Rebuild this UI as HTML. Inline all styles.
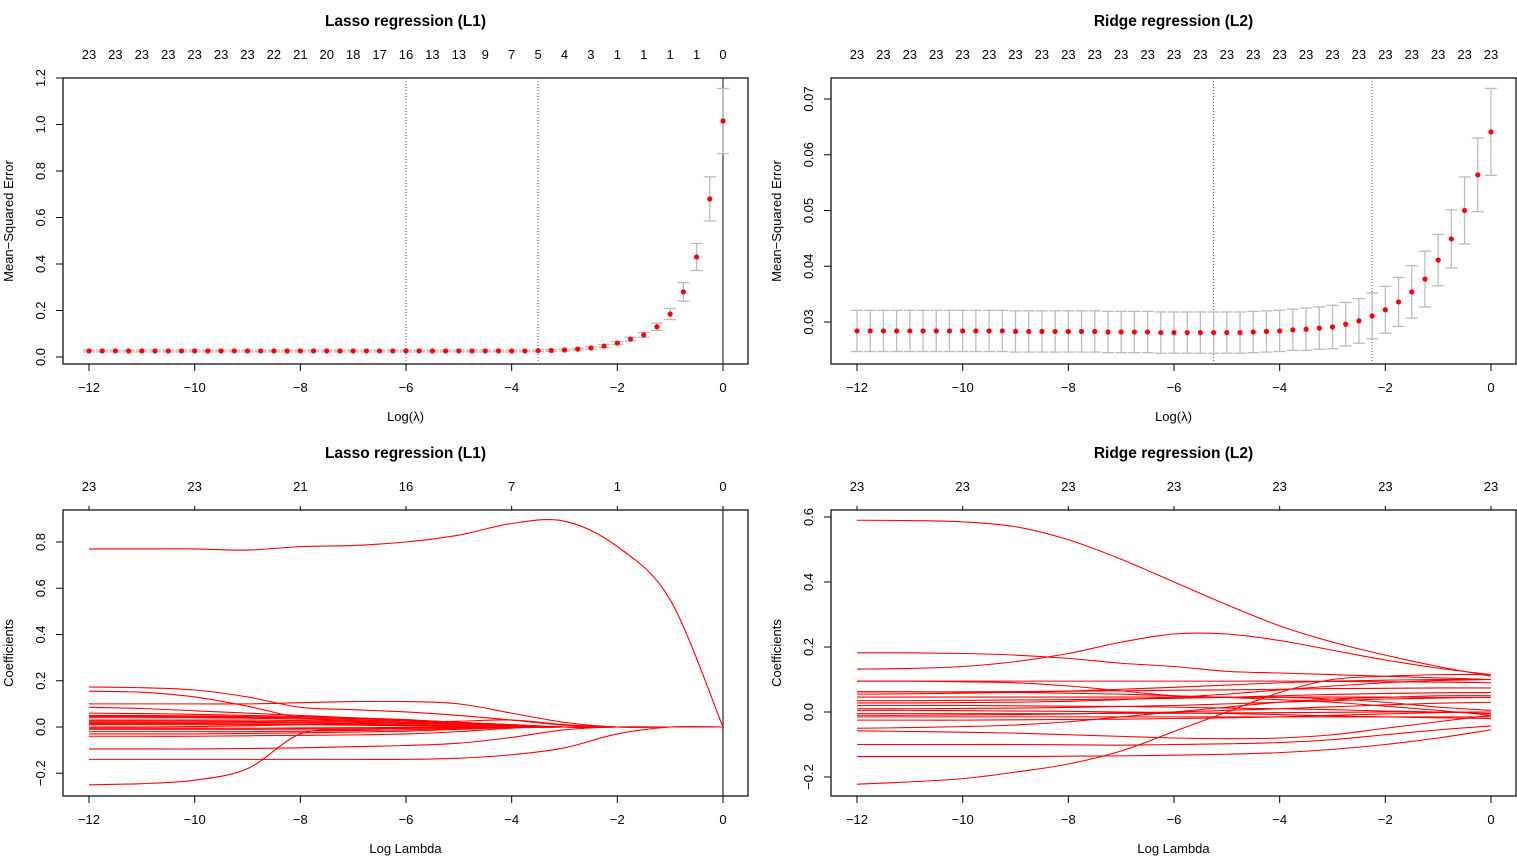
<!DOCTYPE html>
<html><head><meta charset="utf-8"><style>
html,body{margin:0;padding:0;background:#fff;}
svg text{font-family:"Liberation Sans",Arial,sans-serif;fill:#000;}
</style></head><body>
<svg id="c" width="1517" height="860" viewBox="0 0 1517 860" xmlns="http://www.w3.org/2000/svg"></svg>
<script>
// ---- data ----
const cvLogLambda = [-12,-11.75,-11.5,-11.25,-11,-10.75,-10.5,-10.25,-10,-9.75,-9.5,-9.25,-9,-8.75,-8.5,-8.25,-8,-7.75,-7.5,-7.25,-7,-6.75,-6.5,-6.25,-6,-5.75,-5.5,-5.25,-5,-4.75,-4.5,-4.25,-4,-3.75,-3.5,-3.25,-3,-2.75,-2.5,-2.25,-2,-1.75,-1.5,-1.25,-1,-0.75,-0.5,-0.25,0];
const lassoMse = [0.026,0.026,0.026,0.026,0.026,0.026,0.026,0.026,0.026,0.026,0.026,0.026,0.026,0.026,0.026,0.026,0.026,0.026,0.026,0.026,0.026,0.026,0.026,0.026,0.026,0.026,0.026,0.026,0.026,0.026,0.026,0.026,0.026,0.026,0.027,0.028,0.030,0.034,0.039,0.047,0.060,0.077,0.095,0.13,0.185,0.28,0.43,0.68,1.015];
const lassoSe = [0.004,0.004,0.004,0.004,0.004,0.004,0.004,0.004,0.004,0.004,0.004,0.004,0.004,0.004,0.004,0.004,0.004,0.004,0.004,0.004,0.004,0.004,0.004,0.004,0.004,0.004,0.004,0.004,0.004,0.004,0.004,0.004,0.004,0.004,0.004,0.004,0.004,0.004,0.005,0.006,0.006,0.008,0.01,0.016,0.024,0.04,0.058,0.095,0.14];
const ridgeMse = [0.0284,0.0284,0.0284,0.0284,0.0284,0.0284,0.0284,0.0284,0.0284,0.0284,0.0284,0.0284,0.0283,0.0283,0.0283,0.0283,0.0283,0.0283,0.0283,0.0282,0.0282,0.0282,0.0282,0.0281,0.0281,0.0281,0.0281,0.0281,0.0281,0.0281,0.0282,0.0283,0.0284,0.0286,0.0287,0.0289,0.0291,0.0296,0.0302,0.0311,0.0322,0.0336,0.0354,0.0377,0.0411,0.0449,0.0500,0.0564,0.0641];
const ridgeSe = [0.0037,0.0037,0.0037,0.0037,0.0037,0.0037,0.0037,0.0037,0.0037,0.0037,0.0037,0.0037,0.0037,0.0037,0.0037,0.0037,0.0037,0.0037,0.0037,0.0037,0.0037,0.0037,0.0037,0.0037,0.0037,0.0037,0.0037,0.0037,0.0037,0.0037,0.0037,0.0037,0.0037,0.0037,0.0038,0.0038,0.0039,0.0039,0.004,0.0041,0.0042,0.0044,0.0047,0.005,0.0046,0.0052,0.006,0.0066,0.0078];
const lassoTopLabels = ["23","23","23","23","23","23","23","22","21","20","18","17","16","13","13","9","7","5","4","3","1","1","1","1","0"];
const ridgeTopLabels = ["23","23","23","23","23","23","23","23","23","23","23","23","23","23","23","23","23","23","23","23","23","23","23","23","23"];
const lassoVLines = [-6,-3.5];
const ridgeVLines = [-5.25,-2.25];
const pathLogLambda = [-12,-11,-10,-9,-8,-7,-6,-5,-4,-3,-2,-1,0];
const lassoPathTop = ["23","23","21","16","7","1","0"];
const ridgePathTop = ["23","23","23","23","23","23","23"];
const lassoCoefs = [
[0.77,0.77,0.77,0.765,0.78,0.785,0.80,0.83,0.88,0.89,0.78,0.55,0],
[0.173,0.17,0.16,0.13,0.085,0.075,0.065,0.05,0.03,0.008,0,0,0],
[0.155,0.15,0.13,0.09,0.04,0.025,0.018,0.01,0.003,0,0,0,0],
[0.10,0.10,0.10,0.10,0.105,0.11,0.11,0.10,0.06,0.02,0,0,0],
[0.085,0.08,0.07,0.06,0.05,0.04,0.03,0.02,0.01,0,0,0,0],
[0.06,0.058,0.055,0.05,0.045,0.04,0.032,0.02,0.01,0,0,0,0],
[0.05,0.05,0.048,0.045,0.04,0.035,0.03,0.02,0.01,0,0,0,0],
[0.04,0.04,0.04,0.038,0.035,0.03,0.025,0.015,0.005,0,0,0,0],
[0.03,0.03,0.03,0.03,0.028,0.025,0.02,0.012,0.004,0,0,0,0],
[0.025,0.025,0.025,0.024,0.022,0.02,0.015,0.01,0.003,0,0,0,0],
[0.02,0.02,0.02,0.02,0.018,0.015,0.01,0.005,0,0,0,0,0],
[0.015,0.015,0.015,0.014,0.012,0.01,0.007,0.003,0,0,0,0,0],
[0.01,0.01,0.01,0.01,0.01,0.008,0.005,0.002,0,0,0,0,0],
[0,0,0.002,0.005,0.01,0.015,0.02,0.025,0.03,0.01,0,0,0],
[-0.005,-0.005,-0.005,-0.005,-0.004,-0.003,-0.002,0,0,0,0,0,0],
[-0.01,-0.01,-0.01,-0.01,-0.009,-0.008,-0.006,-0.003,0,0,0,0,0],
[-0.02,-0.02,-0.02,-0.02,-0.018,-0.015,-0.012,-0.006,0,0,0,0,0],
[-0.03,-0.03,-0.03,-0.028,-0.025,-0.022,-0.018,-0.01,-0.002,0,0,0,0],
[-0.04,-0.04,-0.04,-0.038,-0.036,-0.034,-0.03,-0.02,-0.005,0,0,0,0],
[-0.095,-0.095,-0.095,-0.093,-0.09,-0.085,-0.08,-0.07,-0.045,-0.012,0,0,0],
[-0.14,-0.14,-0.14,-0.14,-0.14,-0.14,-0.14,-0.135,-0.12,-0.09,-0.03,0,0],
[-0.25,-0.245,-0.23,-0.18,-0.03,-0.012,-0.005,0,0,0,0,0,0],
[0.045,0.045,0.044,0.042,0.04,0.036,0.03,0.02,0.008,0,0,0,0]
];
const ridgeCoefs = [
[0.59,0.589,0.585,0.57,0.53,0.47,0.40,0.33,0.265,0.215,0.175,0.14,0.11],
[0.182,0.182,0.18,0.175,0.165,0.15,0.14,0.125,0.12,0.115,0.11,0.105,0.10],
[0.132,0.134,0.14,0.155,0.18,0.215,0.24,0.24,0.22,0.19,0.16,0.135,0.115],
[-0.222,-0.215,-0.205,-0.185,-0.16,-0.12,-0.06,0.0,0.06,0.10,0.11,0.115,0.115],
[-0.137,-0.137,-0.137,-0.137,-0.136,-0.135,-0.133,-0.13,-0.125,-0.115,-0.10,-0.08,-0.055],
[-0.10,-0.10,-0.10,-0.10,-0.101,-0.102,-0.10,-0.098,-0.094,-0.085,-0.07,-0.055,-0.043],
[-0.058,-0.06,-0.062,-0.065,-0.07,-0.075,-0.08,-0.082,-0.08,-0.07,-0.05,-0.03,-0.01],
[-0.05,-0.048,-0.045,-0.04,-0.03,-0.015,0.0,0.015,0.03,0.04,0.045,0.05,0.05],
[0.095,0.095,0.095,0.095,0.095,0.095,0.095,0.095,0.095,0.094,0.093,0.092,0.09],
[0.095,0.095,0.093,0.09,0.08,0.065,0.05,0.045,0.045,0.04,0.03,0.015,0.005],
[0.062,0.062,0.062,0.063,0.064,0.065,0.067,0.068,0.07,0.072,0.073,0.074,0.074],
[0.062,0.062,0.061,0.06,0.058,0.055,0.05,0.045,0.038,0.03,0.018,0.005,-0.01],
[0.046,0.046,0.046,0.046,0.046,0.046,0.046,0.046,0.046,0.046,0.046,0.045,0.045],
[0.028,0.028,0.029,0.03,0.033,0.038,0.045,0.055,0.068,0.08,0.09,0.097,0.10],
[0.02,0.02,0.02,0.019,0.018,0.017,0.015,0.012,0.01,0.007,0.003,0,-0.005],
[0.01,0.01,0.011,0.012,0.014,0.017,0.02,0.025,0.03,0.035,0.04,0.043,0.045],
[-0.005,-0.005,-0.005,-0.005,-0.005,-0.004,-0.004,-0.003,-0.002,-0.001,0,0,0],
[-0.015,-0.015,-0.015,-0.015,-0.015,-0.015,-0.015,-0.015,-0.015,-0.015,-0.015,-0.015,-0.015],
[-0.025,-0.025,-0.025,-0.024,-0.023,-0.022,-0.02,-0.018,-0.015,-0.01,-0.006,-0.002,0],
[0.055,0.056,0.058,0.06,0.064,0.07,0.076,0.083,0.09,0.095,0.098,0.1,0.1],
[0.035,0.035,0.036,0.037,0.038,0.04,0.042,0.045,0.05,0.054,0.057,0.059,0.06],
[0.005,0.005,0.004,0.003,0.002,0,-0.002,-0.005,-0.008,-0.012,-0.015,-0.018,-0.02],
[-0.01,-0.01,-0.009,-0.008,-0.006,-0.003,0,0.005,0.01,0.016,0.022,0.027,0.03]
];
const lassoMseTicks = [0,0.2,0.4,0.6,0.8,1.0,1.2];
const ridgeMseTicks = [0.03,0.04,0.05,0.06,0.07];
const lassoCoefTicks = [-0.2,0,0.2,0.4,0.6,0.8];
const ridgeCoefTicks = [-0.2,0,0.2,0.4,0.6];
const xTicks = [-12,-10,-8,-6,-4,-2,0];

// ---- drawing ----
const svg = document.getElementById('c');
const NS = 'http://www.w3.org/2000/svg';
function mk(tag, attrs, parent){const e=document.createElementNS(NS,tag);for(const k in attrs)e.setAttribute(k,attrs[k]);(parent||svg).appendChild(e);return e;}
function txt(s, attrs, parent){const e=mk('text',attrs,parent);e.textContent=s;return e;}
function fmt(v,dec){const s=v.toFixed(dec);return s.replace('-','\u2212');}

function panel(cfg){
  const g = mk('g',{});
  
  
  const X0=cfg.x0, X1=cfg.x1, Y0=cfg.y0, Y1=cfg.y1;
  const sx = v => cfg.px0 + (v+12)/12*(cfg.px1-cfg.px0);
  const sy = v => cfg.yb + (v-cfg.vb)/(cfg.vt-cfg.vb)*(cfg.yt-cfg.yb);
  const t = txt(cfg.title,{x:(X0+X1)/2,y:Y0-52,'text-anchor':'middle','font-size':'15.5','font-weight':'bold'},g);
   
  const xa = mk('g',{},g);  
  mk('line',{x1:sx(-12),x2:sx(0),y1:Y1,y2:Y1,stroke:'#000'},xa);
  xTicks.forEach(v=>{mk('line',{x1:sx(v),x2:sx(v),y1:Y1,y2:Y1+7,stroke:'#000'},xa);
    const l=txt(fmt(v,0),{x:sx(v),y:Y1+28,'text-anchor':'middle','font-size':'13'},xa);
     });
  const xt=txt(cfg.xlab,{x:(X0+X1)/2,y:Y1+57,'text-anchor':'middle','font-size':'13'},g);
   
  const ya = mk('g',{},g);  
  const tk=cfg.yticks;
  mk('line',{x1:X0,x2:X0,y1:sy(tk[0]),y2:sy(tk[tk.length-1]),stroke:'#000'},ya);
  tk.forEach(v=>{mk('line',{x1:X0-7,x2:X0,y1:sy(v),y2:sy(v),stroke:'#000'},ya);
    const l=txt(fmt(v,cfg.ydec),{x:0,y:0,'text-anchor':'middle','font-size':'13',transform:`translate(${X0-18},${sy(v)}) rotate(-90)`},ya);
     });
  const yt=txt(cfg.ylab,{x:0,y:0,'text-anchor':'middle','font-size':'13',transform:`translate(${X0-50},${(Y0+Y1)/2}) rotate(-90)`},g);
   
  const ta = mk('g',{},g);  
  const n=cfg.top.length;
  cfg.top.forEach((s,i)=>{const v=-12+i*12/(n-1);
    if(cfg.topTicks) mk('line',{x1:sx(v),x2:sx(v),y1:Y0-4,y2:Y0,stroke:'#000'},ta);
    txt(s,{x:sx(v),y:Y0-19,'text-anchor':'middle','font-size':'13'},ta);});
  const b=mk('rect',{x:X0,y:Y0,width:X1-X0,height:Y1-Y0,fill:'none',stroke:'#000','stroke-width':1.2},g);
   
  return {g,sx,sy};
}

function curve(xs,ys){
  let d=`M${xs[0]},${ys[0]}`;
  for(let i=0;i<xs.length-1;i++){
    const x0=xs[Math.max(i-1,0)],y0=ys[Math.max(i-1,0)],x1=xs[i],y1=ys[i],x2=xs[i+1],y2=ys[i+1],x3=xs[Math.min(i+2,xs.length-1)],y3=ys[Math.min(i+2,xs.length-1)];
    d+=` C${x1+(x2-x0)/6},${y1+(y2-y0)/6} ${x2-(x3-x1)/6},${y2-(y3-y1)/6} ${x2},${y2}`;
  }
  return d;
}

function cvPanel(cfg, mse, se, vlines, solidZero){
  const p=panel(cfg);
  if(solidZero){const z=mk('line',{x1:p.sx(0),x2:p.sx(0),y1:cfg.y0,y2:cfg.y1,stroke:'#444','stroke-width':1.3},p.g);
     }
  vlines.forEach(v=>{const l=mk('line',{x1:p.sx(v),x2:p.sx(v),y1:cfg.y0,y2:cfg.y1,stroke:'#555','stroke-dasharray':'1,2'},p.g);
     });
  cvLogLambda.forEach((x,i)=>{
    const eb=mk('g',{},p.g);  
    const cx=p.sx(x),yu=p.sy(mse[i]+se[i]),yl=p.sy(mse[i]-se[i]);
    mk('line',{x1:cx,x2:cx,y1:yu,y2:yl,stroke:'#bbb','stroke-width':1.3},eb);
    mk('line',{x1:cx-6,x2:cx+6,y1:yu,y2:yu,stroke:'#bbb','stroke-width':1.3},eb);
    mk('line',{x1:cx-6,x2:cx+6,y1:yl,y2:yl,stroke:'#bbb','stroke-width':1.3},eb);
  });
  cvLogLambda.forEach((x,i)=>{
    const c=mk('circle',{cx:p.sx(x),cy:p.sy(mse[i]),r:2.6,fill:'#f00'},p.g);
     
  });
}

function pathPanel(cfg, coefs, solidZero){
  const p=panel(cfg);
  if(solidZero){const z=mk('line',{x1:p.sx(0),x2:p.sx(0),y1:cfg.y0,y2:cfg.y1,stroke:'#333','stroke-width':1.3},p.g);
     }
  coefs.forEach(row=>{
    const xs=pathLogLambda.map(p.sx), ys=row.map(p.sy);
    const l=mk('path',{d:curve(xs,ys),fill:'none',stroke:'#f00','stroke-width':1.1},p.g);
     
  });
}

cvPanel({name:'lasso-cv-panel',title:'Lasso regression (L1)',xlab:'Log(\u03bb)',ylab:'Mean\u2212Squared Error',x0:63,x1:748,y0:78,y1:364,px0:89,px1:723,yb:357,vb:0,yt:78,vt:1.2,yticks:lassoMseTicks,ydec:1,top:lassoTopLabels,topTicks:false},lassoMse,lassoSe,lassoVLines,true);
cvPanel({name:'ridge-cv-panel',title:'Ridge regression (L2)',xlab:'Log(\u03bb)',ylab:'Mean\u2212Squared Error',x0:831,x1:1516,y0:78,y1:364,px0:857,px1:1491,yb:322,vb:0.03,yt:99,vt:0.07,yticks:ridgeMseTicks,ydec:2,top:ridgeTopLabels,topTicks:false},ridgeMse,ridgeSe,ridgeVLines,false);
pathPanel({name:'lasso-path-panel',title:'Lasso regression (L1)',xlab:'Log Lambda',ylab:'Coefficients',x0:63,x1:748,y0:510,y1:796,px0:89,px1:723,yb:727,vb:0,yt:542,vt:0.8,yticks:lassoCoefTicks,ydec:1,top:lassoPathTop,topTicks:true},lassoCoefs,true);
pathPanel({name:'ridge-path-panel',title:'Ridge regression (L2)',xlab:'Log Lambda',ylab:'Coefficients',x0:831,x1:1516,y0:510,y1:796,px0:857,px1:1491,yb:712,vb:0,yt:517,vt:0.6,yticks:ridgeCoefTicks,ydec:1,top:ridgePathTop,topTicks:true},ridgeCoefs,false);
</script>
</body></html>
